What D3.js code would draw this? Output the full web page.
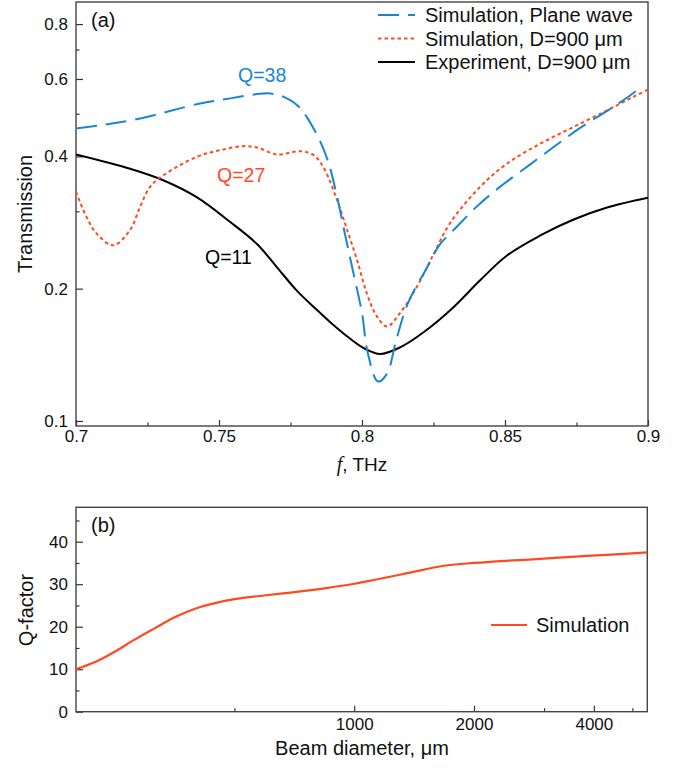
<!DOCTYPE html>
<html>
<head>
<meta charset="utf-8">
<script src="https://cdn.jsdelivr.net/npm/d3@7"></script>
<style>
  body { margin: 0; background: #fff; }
  svg { display: block; font-family: "Liberation Sans", Arial, sans-serif; }
</style>
</head>
<body>
<div class="canva"></div>
<script>
// ---- data ----
const planeF = [0.700, 0.708, 0.722, 0.743, 0.754, 0.764, 0.768, 0.773, 0.778, 0.784, 0.788, 0.791,
  0.794, 0.797, 0.800, 0.802, 0.8056, 0.8087, 0.812, 0.816, 0.823, 0.827, 0.833, 0.840, 0.848,
  0.858, 0.867, 0.876, 0.886, 0.893, 0.898];
const planeT = [0.463, 0.470, 0.487, 0.527, 0.542, 0.555, 0.556, 0.545, 0.518, 0.451, 0.392, 0.330,
  0.267, 0.217, 0.176, 0.143, 0.123, 0.128, 0.153, 0.185, 0.225, 0.251, 0.276, 0.307, 0.340,
  0.380, 0.420, 0.463, 0.509, 0.546, 0.577];

const simF = [0.700, 0.7037, 0.7072, 0.713, 0.7189, 0.7224, 0.7259, 0.7305, 0.7422, 0.7503, 0.7584,
  0.7633, 0.7703, 0.7783, 0.783, 0.7865, 0.7913, 0.7948, 0.7983, 0.8017, 0.8052, 0.8087, 0.8133,
  0.8192, 0.8248, 0.8308, 0.8413, 0.8507, 0.8622, 0.8738, 0.8857, 0.8948, 0.900];
const simT = [0.332, 0.291, 0.267, 0.251, 0.272, 0.307, 0.341, 0.362, 0.399, 0.413, 0.422,
  0.419, 0.404, 0.411, 0.403, 0.378, 0.318, 0.272, 0.232, 0.195, 0.173, 0.164, 0.176,
  0.202, 0.238, 0.282, 0.341, 0.385, 0.427, 0.466, 0.509, 0.546, 0.567];

const expF = [0.700, 0.7189, 0.7305, 0.7422, 0.7538, 0.7632, 0.7702, 0.7772, 0.7842, 0.7888,
  0.7958, 0.801, 0.8063, 0.8133, 0.822, 0.8318, 0.8413, 0.8507, 0.8622, 0.8738, 0.8857, 0.900];
const expT = [0.404, 0.375, 0.353, 0.323, 0.284, 0.253, 0.224, 0.198, 0.179, 0.168,
  0.154, 0.146, 0.142, 0.147, 0.160, 0.181, 0.209, 0.238, 0.264, 0.287, 0.306, 0.322];

const beamD = [200, 225, 250, 280, 315, 355, 400, 450, 500, 600, 700, 850, 1000, 1120, 1360,
  1700, 2000, 2400, 3000, 3600, 4300, 5450];
const qFactor = [10.0, 11.8, 14.1, 16.9, 19.6, 22.3, 24.3, 25.6, 26.5, 27.4, 28.1, 29.1, 30.1, 31.0, 32.6,
  34.4, 35.0, 35.5, 36.0, 36.5, 36.9, 37.5];

const tTicks = [0.1, 0.2, 0.4, 0.6, 0.8];
const tMinor = [0.3, 0.5, 0.7];
const fTicks = [0.7, 0.75, 0.8, 0.85, 0.9];
const fMinor = [0.725, 0.775, 0.825, 0.875];
const qTicks = [0, 10, 20, 30, 40];
const qMinor = [5, 15, 25, 35, 45];
const dTicks = [1000, 2000, 4000];
const dMinor = [500, 3000, 5000];

const blue = '#1a86d0';
const red = '#ff4a1f';

const svg = d3.select('.canva').append('svg')
  .attr('width', 694)
  .attr('height', 768);

// ---- panel (a) ----
const a = { left: 76, right: 648, top: 2, bottom: 426 };
const x1 = d3.scaleLinear().domain([0.7, 0.9]).range([a.left, a.right]);
const y1 = d3.scaleLog().base(2).domain([0.0974, 0.898]).range([a.bottom, a.top]);

svg.append('clipPath').attr('id', 'clipA').append('rect')
  .attr('x', a.left).attr('y', a.top).attr('width', a.right - a.left).attr('height', a.bottom - a.top);

function styleAxis(g) {
  g.select('.domain').remove();
  g.selectAll('.tick line').attr('stroke', '#333').attr('stroke-width', 1.2);
  g.selectAll('.tick text').attr('font-size', 17).attr('fill', '#111')
    .attr('font-family', '"Liberation Sans", Arial, sans-serif');
}

svg.append('g').attr('transform', `translate(${a.left},0)`)
  .call(d3.axisLeft(y1).tickValues(tTicks).tickSize(-7).tickPadding(8).tickFormat(d3.format('')))
  .call(styleAxis);
svg.append('g').attr('transform', `translate(${a.left},0)`)
  .call(d3.axisLeft(y1).tickValues(tMinor).tickSize(-3.5).tickFormat(''))
  .call(styleAxis);
svg.append('g').attr('transform', `translate(0,${a.bottom})`)
  .call(d3.axisBottom(x1).tickValues(fTicks).tickSize(-6).tickPadding(4).tickFormat(d3.format('')))
  .call(styleAxis)
  .selectAll('.tick text').attr('dy', null).attr('y', 16);
svg.append('g').attr('transform', `translate(0,${a.bottom})`)
  .call(d3.axisBottom(x1).tickValues(fMinor).tickSize(-3.5).tickFormat(''))
  .call(styleAxis);

svg.append('rect')
  .attr('x', a.left).attr('y', a.top).attr('width', a.right - a.left).attr('height', a.bottom - a.top)
  .attr('fill', 'none').attr('stroke', '#444').attr('stroke-width', 1.4);

const line1 = d3.line().x(d => x1(d[0])).y(d => y1(d[1])).curve(d3.curveCatmullRom.alpha(0.5));

const curves = svg.append('g').attr('clip-path', 'url(#clipA)');
curves.append('path').datum(d3.zip(expF, expT))
  .attr('d', line1).attr('fill', 'none').attr('stroke', '#000').attr('stroke-width', 2);
curves.append('path').datum(d3.zip(simF, simT))
  .attr('d', line1).attr('fill', 'none').attr('stroke', red).attr('stroke-width', 2)
  .attr('stroke-dasharray', '3.5,3');
curves.append('path').datum(d3.zip(planeF, planeT))
  .attr('d', line1).attr('fill', 'none').attr('stroke', blue).attr('stroke-width', 2)
  .attr('stroke-dasharray', '21,9');

// legend (a)
const legendA = [
  { label: 'Simulation, Plane wave', color: blue, dash: '21,9', y: 15 },
  { label: 'Simulation, D=900 μm', color: red, dash: '3.5,3', y: 38.5 },
  { label: 'Experiment, D=900 μm', color: '#000', dash: null, y: 62 }
];
legendA.forEach(l => {
  svg.append('line').attr('x1', 378).attr('x2', 415).attr('y1', l.y).attr('y2', l.y)
    .attr('stroke', l.color).attr('stroke-width', 2).attr('stroke-dasharray', l.dash);
  svg.append('text').attr('x', 425).attr('y', l.y + 7).attr('font-size', 20).attr('fill', '#111')
    .text(l.label);
});

svg.append('text').attr('x', 91).attr('y', 27).attr('font-size', 20).attr('fill', '#111').text('(a)');
svg.append('text').attr('x', 238).attr('y', 81.5).attr('font-size', 19.5).attr('fill', blue).text('Q=38');
svg.append('text').attr('x', 217).attr('y', 181.5).attr('font-size', 19.5).attr('fill', red).text('Q=27');
svg.append('text').attr('x', 205).attr('y', 263.5).attr('font-size', 19.5).attr('fill', '#000').text('Q=11');

svg.append('text').attr('transform', 'translate(32,214) rotate(-90)')
  .attr('text-anchor', 'middle').attr('font-size', 20).attr('fill', '#111').text('Transmission');

const ft = svg.append('text').attr('x', 362).attr('y', 471).attr('text-anchor', 'middle')
  .attr('font-size', 19).attr('fill', '#111');
ft.append('tspan').attr('font-family', '"Liberation Serif", "Times New Roman", serif')
  .attr('font-style', 'italic').attr('font-size', 20).text('f');
ft.append('tspan').text(', THz');

// ---- panel (b) ----
const b = { left: 76, right: 647.3, top: 507.3, bottom: 711.7 };
const x2 = d3.scaleLog().domain([200, 5450]).range([b.left, b.right]);
const y2 = d3.scaleLinear().domain([0, 48.1]).range([b.bottom, b.top]);

svg.append('g').attr('transform', `translate(${b.left},0)`)
  .call(d3.axisLeft(y2).tickValues(qTicks).tickSize(-7).tickPadding(8))
  .call(styleAxis);
svg.append('g').attr('transform', `translate(${b.left},0)`)
  .call(d3.axisLeft(y2).tickValues(qMinor).tickSize(-3.5).tickFormat(''))
  .call(styleAxis);
svg.append('g').attr('transform', `translate(0,${b.bottom})`)
  .call(d3.axisBottom(x2).tickValues(dTicks).tickSize(-6).tickFormat(d3.format('d')))
  .call(styleAxis)
  .selectAll('.tick text').attr('dy', null).attr('y', 18);
svg.append('g').attr('transform', `translate(0,${b.bottom})`)
  .call(d3.axisBottom(x2).tickValues(dMinor).tickSize(-3.5).tickFormat(''))
  .call(styleAxis);

svg.append('rect')
  .attr('x', b.left).attr('y', b.top).attr('width', b.right - b.left).attr('height', b.bottom - b.top)
  .attr('fill', 'none').attr('stroke', '#444').attr('stroke-width', 1.4);

const line2 = d3.line().x((d, i) => x2(beamD[i])).y(d => y2(d)).curve(d3.curveCatmullRom.alpha(0.5));
svg.append('path').datum(qFactor)
  .attr('d', line2).attr('fill', 'none').attr('stroke', red).attr('stroke-width', 2.2);

svg.append('line').attr('x1', 491).attr('x2', 527).attr('y1', 625).attr('y2', 625)
  .attr('stroke', red).attr('stroke-width', 2.2);
svg.append('text').attr('x', 536).attr('y', 632).attr('font-size', 20).attr('fill', '#111').text('Simulation');

svg.append('text').attr('x', 91).attr('y', 532).attr('font-size', 20).attr('fill', '#111').text('(b)');

svg.append('text').attr('transform', 'translate(33,610) rotate(-90)')
  .attr('text-anchor', 'middle').attr('font-size', 20).attr('fill', '#111').text('Q-factor');
svg.append('text').attr('x', 362).attr('y', 755).attr('text-anchor', 'middle')
  .attr('font-size', 20).attr('fill', '#111').text('Beam diameter, μm');
</script>
</body>
</html>
